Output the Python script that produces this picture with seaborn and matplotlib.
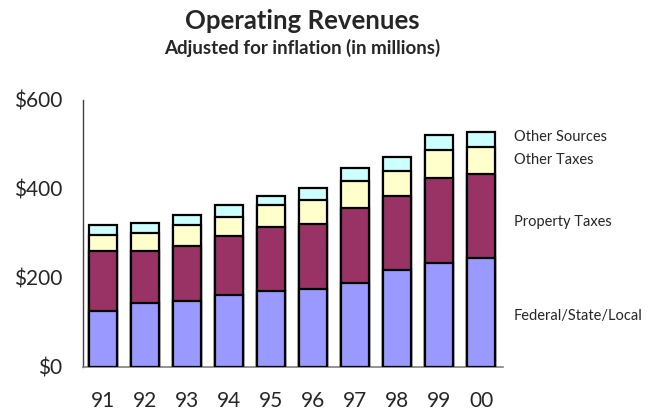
import matplotlib
matplotlib.use("Agg")
import matplotlib.pyplot as plt
import matplotlib.transforms as mtransforms
import seaborn as sns
import numpy as np
import pandas as pd

years = ["91", "92", "93", "94", "95", "96", "97", "98", "99", "00"]
federal = [125, 144, 148, 161, 170, 175, 188, 219, 233, 246]
property_taxes = [135, 116, 125, 134, 144, 147, 170, 166, 192, 188]
other_taxes = [36, 40, 45, 41, 49, 54, 59, 55, 63, 61]
other_sources = [23, 23, 23, 27, 22, 27, 31, 31, 33, 33]

series_names = ["Federal/State/Local", "Property Taxes", "Other Taxes", "Other Sources"]
series_values = [federal, property_taxes, other_taxes, other_sources]
colors = ["#9999FF", "#993366", "#FFFFCC", "#CCFFFF"]
yticks = [0, 200, 400, 600]
ytick_labels = ["$0", "$200", "$400", "$600"]
label_y = [114, 325, 466, 517]  # label positions for right-side series names

sns.set_style("white")
plt.rcParams["font.family"] = ["Lato", "DejaVu Sans"]

fig = plt.figure(figsize=(6.52, 4.13), dpi=100)
ax = fig.add_axes([0.1273, 0.1114, 0.6442, 0.6465])

cum = np.cumsum(np.array(series_values), axis=0)
# draw from tallest cumulative to shortest so the stacks appear layered
for i in range(len(series_names) - 1, -1, -1):
    df = pd.DataFrame({"year": years, "value": cum[i]})
    sns.barplot(data=df, x="year", y="value", color=colors[i], saturation=1,
                width=0.67, edgecolor="black", linewidth=1.6, ax=ax, zorder=2 + (3 - i))

ax.set_ylim(0, 600)
ax.set_xlim(-0.48, 9.52)
ax.set_yticks(yticks)
ax.set_yticklabels(ytick_labels)
ax.set_xlabel("")
ax.set_ylabel("")
ax.tick_params(axis="y", length=0, pad=15, labelsize=15)
ax.tick_params(axis="x", length=0, pad=17, labelsize=15)
for s in ["top", "right"]:
    ax.spines[s].set_visible(False)
ax.spines["left"].set_color("#404040")
ax.spines["left"].set_linewidth(1.0)
ax.spines["bottom"].set_color("#808080")
ax.spines["bottom"].set_linewidth(1.2)

trans = mtransforms.blended_transform_factory(ax.transAxes, ax.transData)
for name, yv in zip(series_names, label_y):
    ax.text(1.025, yv, name, transform=trans, fontsize=10.5, va="center", ha="left")

fig.text(0.463, 0.950, "Operating Revenues", ha="center", va="center",
         fontsize=18.5, fontweight="bold")
fig.text(0.463, 0.885, "Adjusted for inflation (in millions)", ha="center", va="center",
         fontsize=13.5, fontweight="bold")

fig.savefig("out.png", dpi=100)
